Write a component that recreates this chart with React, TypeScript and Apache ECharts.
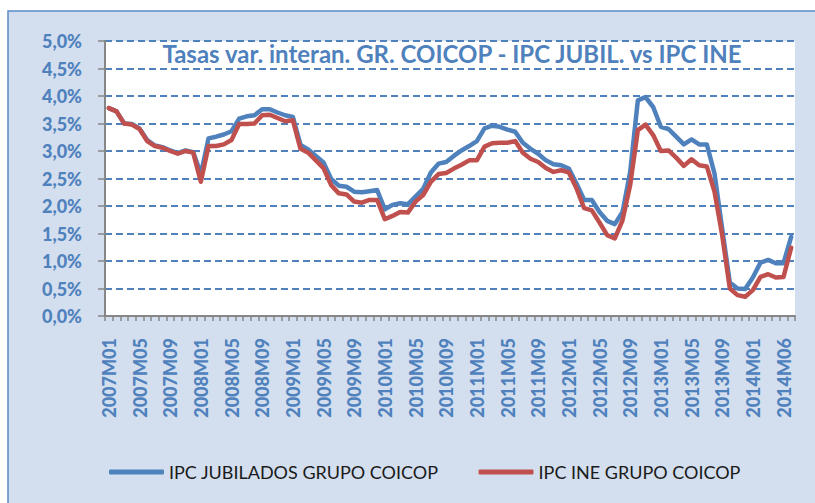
import React, { useEffect, useRef } from "react";
import * as echarts from "echarts";

const categories: string[] = [
  "2007M01","2007M02","2007M03","2007M04","2007M05","2007M06","2007M07","2007M08","2007M09","2007M10","2007M11","2007M12",
  "2008M01","2008M02","2008M03","2008M04","2008M05","2008M06","2008M07","2008M08","2008M09","2008M10","2008M11","2008M12",
  "2009M01","2009M02","2009M03","2009M04","2009M05","2009M06","2009M07","2009M08","2009M09","2009M10","2009M11","2009M12",
  "2010M01","2010M02","2010M03","2010M04","2010M05","2010M06","2010M07","2010M08","2010M09","2010M10","2010M11","2010M12",
  "2011M01","2011M02","2011M03","2011M04","2011M05","2011M06","2011M07","2011M08","2011M09","2011M10","2011M11","2011M12",
  "2012M01","2012M02","2012M03","2012M04","2012M05","2012M06","2012M07","2012M08","2012M09","2012M10","2012M11","2012M12",
  "2013M01","2013M02","2013M03","2013M04","2013M05","2013M06","2013M07","2013M08","2013M09","2013M10","2013M11","2013M12",
  "2014M01","2014M03","2014M04","2014M05","2014M06","2014M07"
];

const ipcJubilados: number[] = [
  3.78, 3.72, 3.50, 3.49, 3.41, 3.20, 3.10, 3.07, 3.01, 2.96, 3.01, 2.98,
  2.58, 3.23, 3.26, 3.30, 3.36, 3.59, 3.63, 3.65, 3.76, 3.76, 3.70, 3.65,
  3.62, 3.11, 3.03, 2.91, 2.79, 2.49, 2.37, 2.35, 2.26, 2.25, 2.27, 2.29,
  1.94, 2.02, 2.05, 2.03, 2.17, 2.31, 2.61, 2.77, 2.80, 2.91, 3.01, 3.09,
  3.18, 3.41, 3.46, 3.44, 3.39, 3.35, 3.15, 3.04, 2.95, 2.83, 2.76, 2.74,
  2.68, 2.41, 2.11, 2.11, 1.89, 1.73, 1.67, 1.89, 2.62, 3.92, 3.98, 3.80,
  3.44, 3.40, 3.26, 3.12, 3.21, 3.12, 3.12, 2.59, 1.59, 0.61, 0.50, 0.49,
  0.70, 0.97, 1.02, 0.96, 0.96, 1.44
];

const ipcIne: number[] = [
  3.78, 3.72, 3.50, 3.48, 3.40, 3.18, 3.09, 3.06, 3.00, 2.95, 3.00, 2.97,
  2.44, 3.09, 3.09, 3.12, 3.20, 3.49, 3.49, 3.50, 3.65, 3.66, 3.60, 3.54,
  3.56, 3.04, 2.97, 2.83, 2.69, 2.38, 2.23, 2.21, 2.08, 2.06, 2.11, 2.11,
  1.76, 1.82, 1.89, 1.88, 2.08, 2.20, 2.44, 2.58, 2.60, 2.68, 2.75, 2.83,
  2.83, 3.08, 3.14, 3.15, 3.15, 3.18, 2.97, 2.86, 2.80, 2.69, 2.62, 2.65,
  2.61, 2.32, 1.96, 1.92, 1.70, 1.47, 1.41, 1.74, 2.38, 3.38, 3.48, 3.29,
  3.00, 3.01, 2.88, 2.73, 2.85, 2.74, 2.72, 2.26, 1.47, 0.50, 0.38, 0.35,
  0.47, 0.71, 0.76, 0.70, 0.71, 1.24
];

const seriesNames: string[] = ["IPC JUBILADOS GRUPO COICOP", "IPC INE GRUPO COICOP"];
const titleText = "Tasas var. interan. GR. COICOP - IPC JUBIL. vs IPC INE";

const BLUE = "#4F81BD";
const RED = "#C0504D";
const GRAY = "#868686";
const FONT = "Lato, 'Open Sans', sans-serif";

export default function App() {
  const ref = useRef<HTMLDivElement>(null);
  useEffect(() => {
    if (!ref.current) return;
    const chart = echarts.init(ref.current, undefined, { renderer: "svg" });
    chart.setOption({
      animation: false,
      backgroundColor: "#ffffff",
      textStyle: { fontFamily: FONT },
      graphic: [
        {
          type: "rect",
          z: -10,
          silent: true,
          shape: { x: 8, y: 11, width: 820, height: 500 },
          style: { fill: "#D3DFEE", stroke: "#5B8BC9", lineWidth: 1.5 },
        },
        {
          type: "text",
          x: 452,
          y: 53,
          z: 10,
          style: {
            text: titleText,
            fill: BLUE,
            font: `bold 24px ${FONT}`,
            textAlign: "center",
            textVerticalAlign: "middle",
          },
        },
      ],
      grid: {
        left: 105,
        right: 20,
        top: 41,
        bottom: 187,
        show: true,
        backgroundColor: "#ffffff",
        borderWidth: 0,
      },
      legend: {
        left: 104,
        top: 458,
        itemWidth: 55,
        itemHeight: 5,
        itemGap: 40,
        icon: "roundRect",
        textStyle: { fontFamily: FONT, fontSize: 18, color: "#1a1a1a" },
        data: seriesNames,
      },
      xAxis: {
        type: "category",
        data: categories,
        boundaryGap: true,
        axisLine: { show: true, lineStyle: { color: GRAY, width: 2 } },
        axisTick: { show: true, interval: 0, length: 5, lineStyle: { color: GRAY, width: 1.5 } },
        axisLabel: {
          interval: 3,
          rotate: 90,
          margin: 22,
          color: BLUE,
          fontWeight: 900,
          fontSize: 18,
          fontFamily: FONT,
        },
        splitLine: { show: false },
      },
      yAxis: {
        type: "value",
        min: 0,
        max: 5,
        interval: 0.5,
        axisLine: { show: true, lineStyle: { color: GRAY, width: 2 } },
        axisTick: { show: true, length: 7, lineStyle: { color: GRAY, width: 1.5 } },
        axisLabel: {
          margin: 23,
          color: BLUE,
          fontWeight: 900,
          fontSize: 18,
          fontFamily: FONT,
          formatter: (v: number) => v.toFixed(1).replace(".", ",") + "%",
        },
        splitLine: { show: true, lineStyle: { color: BLUE, width: 1.8, type: [7, 4] } },
      },
      series: [
        {
          name: seriesNames[0],
          type: "line",
          data: ipcJubilados,
          showSymbol: false,
          symbol: "none",
          lineStyle: { color: BLUE, width: 4.5, cap: "round", join: "round" },
          itemStyle: { color: BLUE },
        },
        {
          name: seriesNames[1],
          type: "line",
          data: ipcIne,
          showSymbol: false,
          symbol: "none",
          lineStyle: { color: RED, width: 4.5, cap: "round", join: "round" },
          itemStyle: { color: RED },
        },
      ],
    });
    return () => chart.dispose();
  }, []);
  return (
    <div
      ref={ref}
      style={{ position: "fixed", left: 0, top: 0, width: 815, height: 503 }}
    />
  );
}
